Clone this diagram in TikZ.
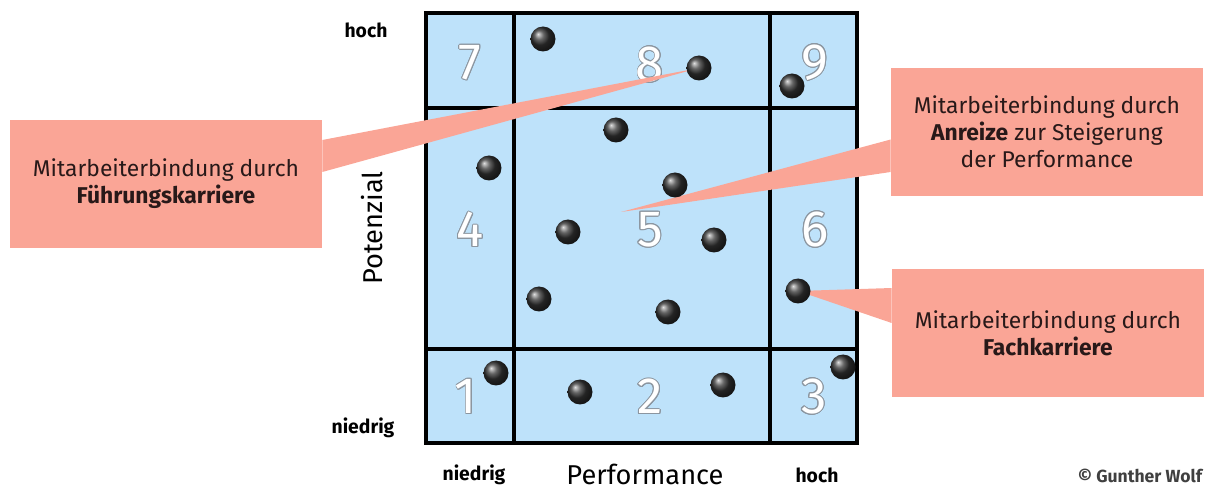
\documentclass[tikz,border=0pt]{standalone}
\usepackage{fontspec}
\setmainfont{Fira Sans}
\usepackage{contour}
\contourlength{0.5pt}
\usetikzlibrary{positioning}

\definecolor{gridblue}{RGB}{190,226,250}
\definecolor{salmon}{RGB}{250,165,150}
\definecolor{numgray}{RGB}{140,150,160}
\definecolor{inkbrown}{RGB}{40,25,25}

\begin{document}
\begin{tikzpicture}[x=0.02cm, y=-0.02cm, every node/.style={font=\small},
    dot/.style={circle, minimum size=0.5cm, inner sep=0pt, shading=ball, ball color=black!80},
    cellnum/.style={font=\fontsize{29}{29}\selectfont, inner sep=0pt},
    axislabel/.style={font=\bfseries\fontsize{11}{13}\selectfont},
    axistitle/.style={font=\fontsize{15.5}{17}\selectfont, inner sep=1pt},
    bubble/.style={fill=salmon, minimum width=6.24cm, minimum height=2.56cm, align=center,
      text=inkbrown, font=\fontsize{13}{15.5}\selectfont}]
  \useasboundingbox (0,0) rectangle (1215,489);

  % Portfolio grid
  \fill[gridblue] (426,13) rectangle (857,443);
  \draw[line width=1.9pt] (514,13) -- (514,443) (770,13) -- (770,443)
    (426,108) -- (857,108) (426,349) -- (857,349);
  \draw[line width=2.7pt] (426,13) rectangle (857,443);

  % Field numbers
  \foreach \n/\x/\y in {1/466/397, 2/650/397, 3/814/397, 4/470/230, 5/650/230,
      6/815/230, 7/470/63, 8/650/65, 9/815/63}
    \node[cellnum] (n\n) at (\x,\y) {\contour{numgray}{\textcolor{white}{\n}}};

  % Axes
  \node[axislabel] (yhigh) at (366,30) {hoch};
  \node[axislabel] (ylow) at (363,428) {niedrig};
  \node[axislabel] (xlow) at (474,475) {niedrig};
  \node[axislabel] (xhigh) at (817,475) {hoch};
  \node[axistitle] (perf) at (645,474) {Performance};
  \node[axistitle, rotate=90] (pot) at (372,228) {Potenzial};
  \node[font=\bfseries\fontsize{10}{12}\selectfont, text=black!75] (copy) at (1140,476) {© Gunther Wolf};

  % Callouts
  \node[bubble] (fk) at (166,184) {Mitarbeiterbindung durch\\\textbf{Führungskarriere}};
  \node[bubble] (az) at (1047,132) {Mitarbeiterbindung durch\\\textbf{Anreize} zur Steigerung\\der Performance};
  \node[bubble] (fa) at (1048,333) {Mitarbeiterbindung durch\\\textbf{Fachkarriere}};
  \coordinate (tip5) at (621,212);

  % Employees
  \foreach \x/\y [count=\i] in {543/39, 699/68, 792/86, 616/130, 489/168, 675/185,
      568/232, 714/240, 798/291, 539/299, 668/312, 496/373, 580/392, 723/385, 843/367}
    \coordinate (p\i) at (\x,\y);

  \fill[salmon] ([yshift=0.88cm]fk.east) -- (p2) -- ([yshift=0.24cm]fk.east) -- cycle;
  \fill[salmon] ([yshift=-0.15cm]az.west) -- (tip5) -- ([yshift=-0.8cm]az.west) -- cycle;
  \fill[salmon] ([yshift=0.9cm]fa.west) -- (p9) -- ([yshift=0.2cm]fa.west) -- cycle;

  \foreach \i in {1,...,15}
    \node[dot] (d\i) at (p\i) {};
\end{tikzpicture}
\end{document}
